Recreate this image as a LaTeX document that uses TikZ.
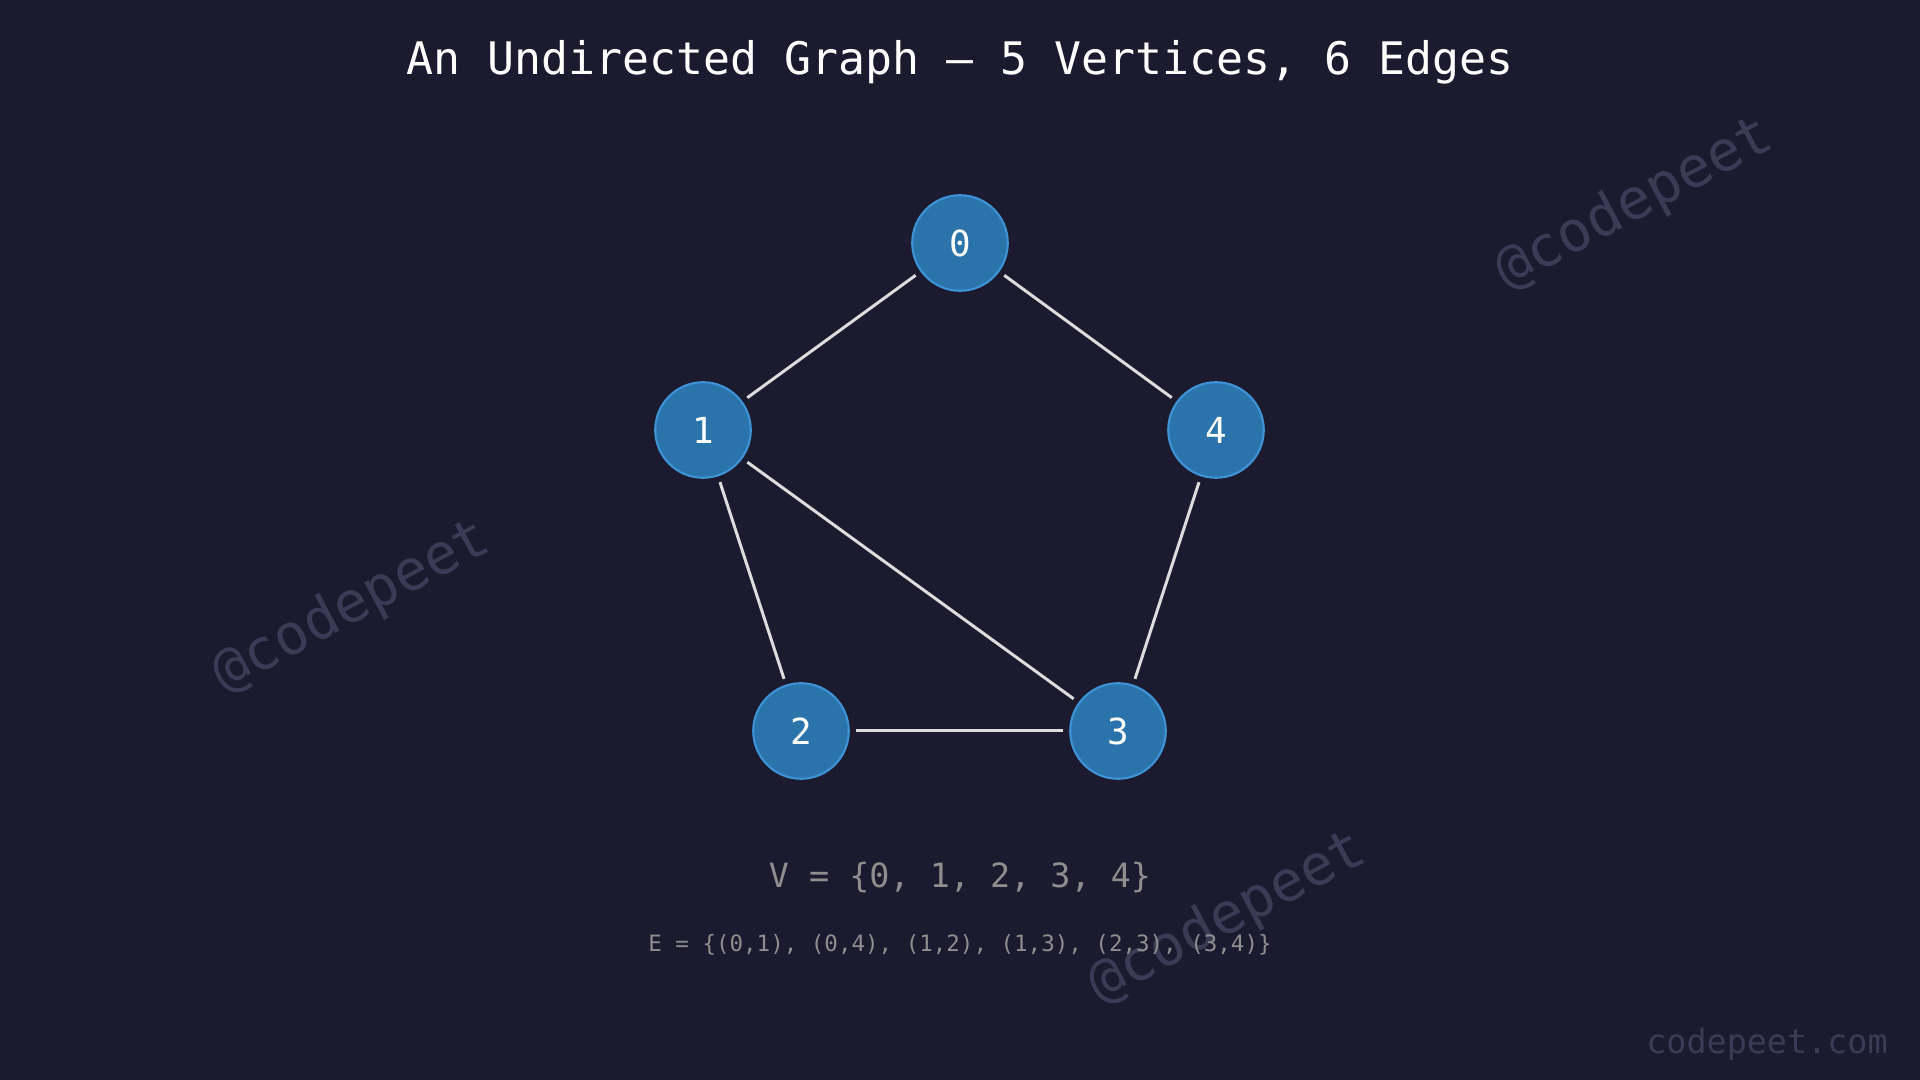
\documentclass[tikz,border=0pt]{standalone}
\usepackage{fontspec}
\setmainfont{DejaVu Sans Mono}
\definecolor{bgcol}{HTML}{1B1A2E}
\definecolor{vfill}{HTML}{2B73AB}
\definecolor{vline}{HTML}{3D93D6}
\definecolor{ecol}{HTML}{DCDCDC}
\definecolor{setcol}{HTML}{8E8E8E}
\definecolor{markcol}{HTML}{3B3B55}
\begin{document}
\begin{tikzpicture}[
    x=0.01cm, y=-0.01cm,
    vertex/.style={circle, fill=vfill, draw=vline, line width=0.6pt,
      minimum size=0.955cm, inner sep=0pt, outer sep=2pt,
      text=white, font=\fontsize{10.2}{12}\selectfont},
    edge/.style={draw=ecol, line width=0.85pt},
    wmark/.style={text=markcol, rotate=28, font=\fontsize{16}{19}\selectfont}]

    \fill[bgcol] (0,0) rectangle (1920,1080);

    \node[text=white, font=\fontsize{12.75}{15}\selectfont] (title) at (960,62)
      {An Undirected Graph — 5 Vertices, 6 Edges};

    \node[wmark] (w1) at (352,607) {@codepeet};
    \node[wmark] (w2) at (1635,204) {@codepeet};
    \node[wmark] (w3) at (1228,918) {@codepeet};

    \node[vertex] (v0) at (960,243) {0};
    \node[vertex] (v1) at (703,430) {1};
    \node[vertex] (v4) at (1216,430) {4};
    \node[vertex] (v2) at (801,731) {2};
    \node[vertex] (v3) at (1118,731) {3};

    \draw[edge] (v0)--(v1);
    \draw[edge] (v0)--(v4);
    \draw[edge] (v1)--(v2);
    \draw[edge] (v1)--(v3);
    \draw[edge] (v2)--(v3);
    \draw[edge] (v3)--(v4);

    \node[text=setcol, font=\fontsize{9.5}{11}\selectfont] (vset) at (960,878)
      {V = \{0, 1, 2, 3, 4\}};
    \node[text=setcol, font=\fontsize{6.4}{8}\selectfont] (eset) at (960,945)
      {E = \{(0,1), (0,4), (1,2), (1,3), (2,3), (3,4)\}};

    \node[text=markcol, font=\fontsize{9.5}{11}\selectfont] (site) at (1767,1044)
      {codepeet.com};
  \end{tikzpicture}
\end{document}
